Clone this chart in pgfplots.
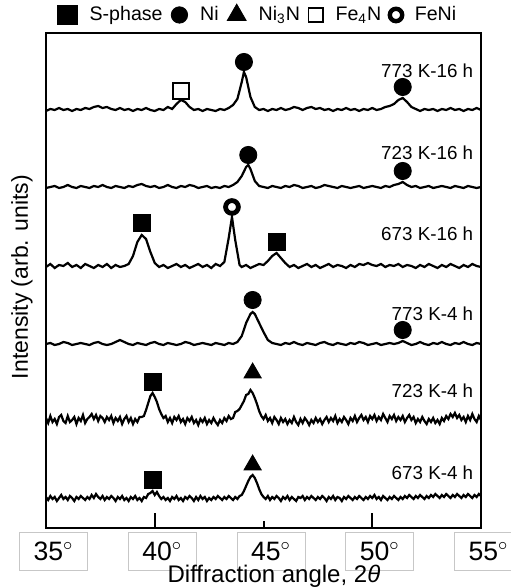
\documentclass[border=0pt]{standalone}
\usepackage{fontspec}
\setmainfont{Liberation Sans}
\usepackage{pgfplots}
\pgfplotsset{compat=1.18}
\newcommand{\dg}{$^{\circ}$}
\begin{document}
\begin{tikzpicture}
\begin{axis}[
  scale only axis, width=217.5pt, height=247.5pt,
  xmin=35, xmax=55, ymin=0, ymax=495,
  axis line style={line width=1pt},
  ytick=\empty,
  xtick={35,40,50,55},
  xticklabels={35\dg\hspace{6pt},40\dg\hspace{6pt},50\dg\hspace{6pt},55\dg\hspace{6pt}},
  extra x ticks={45},
  extra x tick labels={45\dg\hspace{6pt}},
  extra x tick style={major tick length=3.5pt},
  major tick length=7.5pt,
  xtick pos=bottom, tick align=inside,
  every tick/.style={black, line width=1pt},
  xticklabel style={draw=black!22, line width=0.5pt, minimum width=34pt, minimum height=19pt, inner sep=0pt, anchor=north, xshift=3.75pt, yshift=-2pt, font=\fontsize{13.3}{15}\selectfont},
  xlabel={Diffraction angle, 2\textit{θ}},
  ylabel={Intensity (arb. units)},
  every axis x label/.style={at={(axis description cs:0.524,-0.1091)}, anchor=base, font=\fontsize{12}{14}\selectfont},
  every axis y label/.style={at={(axis description cs:-0.0414,0.507)}, rotate=90, anchor=base, font=\fontsize{11.5}{13}\selectfont},
  legend columns=5,
  legend style={draw=none, fill=none, at={(axis description cs:0.4897,1.0364)}, anchor=center, font=\fontsize{9.8}{11}\selectfont,
    /tikz/every even column/.append style={column sep=2.3pt},
    /tikz/every odd column/.append style={column sep=4.3pt}},
  legend image code/.code={\draw[#1] plot coordinates {(0pt,0pt)};},
]
\addlegendimage{/tikz/only marks, black, mark=square*, mark size=4.8pt}
\addlegendentry{S-phase}
\addlegendimage{/tikz/only marks, black, mark=*, mark size=4.1pt}
\addlegendentry{Ni}
\addlegendimage{/tikz/only marks, black, mark=triangle*, mark size=5.4pt}
\addlegendentry{Ni\textsubscript{3}N}
\addlegendimage{/tikz/only marks, black, mark=square, mark size=3.6pt, line width=0.9pt}
\addlegendentry{Fe\textsubscript{4}N}
\addlegendimage{/tikz/only marks, black, mark=o, mark size=3.1pt, line width=2.2pt}
\addlegendentry{FeNi}

% 773 K-16 h
\addplot[black, line width=1.1pt, forget plot] coordinates {(35.0,417)(35.2,419)(35.4,418)(35.6,420)(35.8,418)(36.0,419)(36.2,417)(36.4,419)(36.6,418)(36.8,420)(37.0,419)(37.2,421)(37.4,422)(37.6,420)(37.8,421)(38.0,419)(38.2,418)(38.4,420)(38.6,418)(38.8,419)(39.0,417)(39.2,419)(39.4,418)(39.6,420)(39.8,418)(40.0,417)(40.2,419)(40.4,418)(40.6,421)(40.8,419)(41.0,424)(41.2,428)(41.4,426)(41.6,421)(41.8,418)(42.0,419)(42.2,417)(42.4,419)(42.6,418)(42.8,417)(43.0,419)(43.2,418)(43.4,420)(43.6,423)(43.8,429)(44.0,446)(44.1,456)(44.2,451)(44.4,431)(44.6,421)(44.8,418)(45.0,419)(45.2,417)(45.4,419)(45.6,418)(45.8,420)(46.0,418)(46.2,419)(46.4,421)(46.6,420)(46.8,418)(47.0,420)(47.2,421)(47.4,419)(47.6,420)(47.8,418)(48.0,419)(48.2,417)(48.4,419)(48.6,418)(48.8,420)(49.0,418)(49.2,419)(49.4,417)(49.6,419)(49.8,418)(50.0,420)(50.2,418)(50.4,419)(50.6,421)(50.8,422)(51.0,424)(51.2,428)(51.4,430)(51.6,426)(51.8,421)(52.0,419)(52.2,417)(52.4,419)(52.6,418)(52.8,419)(53.0,417)(53.2,419)(53.4,418)(53.6,420)(53.8,418)(54.0,419)(54.2,417)(54.4,419)(54.6,418)(54.8,420)(55.0,418)};
% 723 K-16 h
\addplot[black, line width=1.1pt, forget plot] coordinates {(35.0,340)(35.2,341)(35.4,342)(35.6,340)(35.8,341)(36.0,343)(36.2,341)(36.4,340)(36.6,342)(36.8,341)(37.0,340)(37.2,342)(37.4,341)(37.6,343)(37.8,341)(38.0,340)(38.2,342)(38.4,341)(38.6,340)(38.8,342)(39.0,341)(39.2,343)(39.4,344)(39.6,342)(39.8,341)(40.0,342)(40.2,340)(40.4,341)(40.6,343)(40.8,341)(41.0,340)(41.2,342)(41.4,341)(41.6,343)(41.8,342)(42.0,340)(42.2,341)(42.4,342)(42.6,340)(42.8,341)(43.0,340)(43.2,342)(43.4,341)(43.6,343)(43.8,346)(44.0,352)(44.2,361)(44.3,363)(44.4,359)(44.6,347)(44.8,342)(45.0,341)(45.2,340)(45.4,342)(45.6,341)(45.8,340)(46.0,342)(46.2,341)(46.4,343)(46.6,342)(46.8,340)(47.0,341)(47.2,342)(47.4,340)(47.6,341)(47.8,343)(48.0,342)(48.2,341)(48.4,340)(48.6,342)(48.8,341)(49.0,340)(49.2,341)(49.4,342)(49.6,340)(49.8,341)(50.0,342)(50.2,341)(50.4,340)(50.6,342)(50.8,341)(51.0,343)(51.2,344)(51.4,346)(51.6,343)(51.8,341)(52.0,342)(52.2,340)(52.4,341)(52.6,342)(52.8,340)(53.0,341)(53.2,342)(53.4,341)(53.6,340)(53.8,342)(54.0,341)(54.2,340)(54.4,342)(54.6,341)(54.8,340)(55.0,341)};
% 673 K-16 h
\addplot[black, line width=1.1pt, forget plot] coordinates {(35.0,261)(35.2,264)(35.4,260)(35.6,263)(35.8,262)(36.0,265)(36.2,261)(36.4,263)(36.6,260)(36.8,264)(37.0,262)(37.2,260)(37.4,263)(37.6,261)(37.8,264)(38.0,260)(38.2,263)(38.4,261)(38.6,262)(38.8,264)(39.0,272)(39.2,286)(39.4,293)(39.6,289)(39.8,276)(40.0,265)(40.2,261)(40.4,263)(40.6,260)(40.8,262)(41.0,264)(41.2,261)(41.4,263)(41.6,260)(41.8,262)(42.0,264)(42.2,261)(42.4,263)(42.6,260)(42.8,264)(43.0,262)(43.2,266)(43.4,290)(43.55,311)(43.7,288)(43.9,263)(44.0,261)(44.2,263)(44.4,260)(44.6,262)(44.8,264)(45.0,263)(45.2,267)(45.4,272)(45.6,275)(45.8,270)(46.0,265)(46.2,261)(46.4,263)(46.6,260)(46.8,262)(47.0,264)(47.2,261)(47.4,263)(47.6,260)(47.8,262)(48.0,264)(48.2,261)(48.4,263)(48.6,262)(48.8,260)(49.0,263)(49.2,261)(49.4,264)(49.6,263)(49.8,265)(50.0,263)(50.2,262)(50.4,264)(50.6,261)(50.8,263)(51.0,262)(51.2,264)(51.4,261)(51.6,263)(51.8,262)(52.0,260)(52.2,263)(52.4,261)(52.6,264)(52.8,262)(53.0,260)(53.2,263)(53.4,261)(53.6,264)(53.8,262)(54.0,260)(54.2,263)(54.4,261)(54.6,264)(54.8,262)(55.0,261)};
% 773 K-4 h
\addplot[black, line width=1.1pt, forget plot] coordinates {(35.0,184)(35.2,185)(35.4,183)(35.6,184)(35.8,186)(36.0,185)(36.2,183)(36.4,184)(36.6,185)(36.8,184)(37.0,183)(37.2,185)(37.4,186)(37.6,184)(37.8,183)(38.0,184)(38.2,186)(38.4,188)(38.6,186)(38.8,184)(39.0,183)(39.2,185)(39.4,184)(39.6,183)(39.8,185)(40.0,186)(40.2,184)(40.4,183)(40.6,185)(40.8,184)(41.0,183)(41.2,184)(41.4,186)(41.6,185)(41.8,183)(42.0,184)(42.2,185)(42.4,184)(42.6,183)(42.8,185)(43.0,184)(43.2,183)(43.4,185)(43.6,184)(43.8,186)(44.0,192)(44.2,205)(44.4,214)(44.5,216)(44.6,214)(44.8,205)(45.0,196)(45.2,188)(45.4,185)(45.6,184)(45.8,183)(46.0,185)(46.2,184)(46.4,186)(46.6,184)(46.8,183)(47.0,185)(47.2,184)(47.4,183)(47.6,185)(47.8,186)(48.0,184)(48.2,183)(48.4,185)(48.6,184)(48.8,183)(49.0,185)(49.2,184)(49.4,186)(49.6,185)(49.8,183)(50.0,184)(50.2,185)(50.4,183)(50.6,184)(50.8,185)(51.0,184)(51.2,185)(51.4,187)(51.6,185)(51.8,183)(52.0,184)(52.2,186)(52.4,184)(52.6,183)(52.8,185)(53.0,184)(53.2,186)(53.4,184)(53.6,183)(53.8,185)(54.0,184)(54.2,186)(54.4,184)(54.6,183)(54.8,185)(55.0,184)};
% 723 K-4 h
\addplot[black, line width=1.1pt, forget plot] coordinates {(35.0,110)(35.1,105)(35.2,112)(35.3,106)(35.4,109)(35.5,104)(35.6,111)(35.7,113)(35.8,107)(35.9,105)(36.0,112)(36.1,106)(36.2,108)(36.3,111)(36.4,104)(36.5,110)(36.6,107)(36.7,113)(36.8,105)(36.9,109)(37.0,111)(37.1,114)(37.2,109)(37.3,113)(37.4,107)(37.5,112)(37.6,110)(37.7,106)(37.8,111)(37.9,108)(38.0,112)(38.1,105)(38.2,110)(38.3,107)(38.4,111)(38.5,104)(38.6,109)(38.7,112)(38.8,106)(38.9,110)(39.0,104)(39.1,109)(39.2,106)(39.3,111)(39.4,111)(39.5,112)(39.6,118)(39.7,125)(39.8,132)(39.9,135)(40.0,131)(40.1,126)(40.2,119)(40.3,114)(40.4,110)(40.5,112)(40.6,106)(40.7,110)(40.8,105)(40.9,111)(41.0,108)(41.1,112)(41.2,106)(41.3,109)(41.4,104)(41.5,110)(41.6,107)(41.7,111)(41.8,105)(41.9,108)(42.0,103)(42.1,109)(42.2,106)(42.3,110)(42.4,104)(42.5,108)(42.6,105)(42.7,110)(42.8,106)(42.9,103)(43.0,108)(43.1,105)(43.2,110)(43.3,107)(43.4,112)(43.5,109)(43.6,110)(43.7,116)(43.8,117)(43.9,119)(44.0,123)(44.1,127)(44.2,133)(44.3,134)(44.4,138)(44.5,135)(44.6,130)(44.7,124)(44.8,117)(44.9,112)(45.0,109)(45.1,113)(45.2,107)(45.3,110)(45.4,105)(45.5,111)(45.6,108)(45.7,104)(45.8,110)(45.9,106)(46.0,109)(46.1,104)(46.2,108)(46.3,105)(46.4,111)(46.5,106)(46.6,103)(46.7,109)(46.8,105)(46.9,110)(47.0,107)(47.1,103)(47.2,108)(47.3,105)(47.4,110)(47.5,106)(47.6,109)(47.7,104)(47.8,108)(47.9,111)(48.0,106)(48.1,110)(48.2,107)(48.3,112)(48.4,105)(48.5,109)(48.6,106)(48.7,111)(48.8,108)(48.9,104)(49.0,110)(49.1,107)(49.2,112)(49.3,106)(49.4,110)(49.5,113)(49.6,108)(49.7,111)(49.8,106)(49.9,112)(50.0,109)(50.1,113)(50.2,107)(50.3,111)(50.4,108)(50.5,114)(50.6,110)(50.7,106)(50.8,112)(50.9,109)(51.0,113)(51.1,107)(51.2,111)(51.3,108)(51.4,112)(51.5,106)(51.6,110)(51.7,113)(51.8,108)(51.9,111)(52.0,105)(52.1,109)(52.2,106)(52.3,111)(52.4,107)(52.5,104)(52.6,109)(52.7,106)(52.8,110)(52.9,105)(53.0,108)(53.1,104)(53.2,110)(53.3,107)(53.4,112)(53.5,109)(53.6,114)(53.7,111)(53.8,115)(53.9,110)(54.0,113)(54.1,108)(54.2,111)(54.3,106)(54.4,112)(54.5,108)(54.6,114)(54.7,109)(54.8,106)(54.9,112)(55.0,108)};
% 673 K-4 h
\addplot[black, line width=1.1pt, forget plot] coordinates {(35.0,31)(35.1,28)(35.2,32)(35.3,29)(35.4,31)(35.5,27)(35.6,30)(35.7,33)(35.8,29)(35.9,31)(36.0,28)(36.1,32)(36.2,30)(36.3,27)(36.4,31)(36.5,29)(36.6,32)(36.7,30)(36.8,28)(36.9,31)(37.0,29)(37.1,33)(37.2,30)(37.3,34)(37.4,31)(37.5,29)(37.6,32)(37.7,28)(37.8,31)(37.9,29)(38.0,32)(38.1,30)(38.2,27)(38.3,31)(38.4,29)(38.5,32)(38.6,28)(38.7,30)(38.8,27)(38.9,31)(39.0,29)(39.1,32)(39.2,28)(39.3,30)(39.4,27)(39.5,31)(39.6,30)(39.7,34)(39.8,35)(39.9,37)(40.0,33)(40.1,36)(40.2,32)(40.3,29)(40.4,31)(40.5,28)(40.6,30)(40.7,27)(40.8,31)(40.9,29)(41.0,32)(41.1,28)(41.2,30)(41.3,27)(41.4,31)(41.5,29)(41.6,32)(41.7,30)(41.8,27)(41.9,31)(42.0,28)(42.1,32)(42.2,29)(42.3,31)(42.4,27)(42.5,30)(42.6,28)(42.7,31)(42.8,29)(42.9,32)(43.0,30)(43.1,28)(43.2,31)(43.3,29)(43.4,32)(43.5,30)(43.6,28)(43.7,31)(43.8,29)(43.9,32)(44.0,33)(44.1,37)(44.2,42)(44.3,47)(44.4,51)(44.5,53)(44.6,50)(44.7,45)(44.8,39)(44.9,34)(45.0,31)(45.1,29)(45.2,32)(45.3,28)(45.4,31)(45.5,29)(45.6,32)(45.7,30)(45.8,27)(45.9,31)(46.0,29)(46.1,32)(46.2,28)(46.3,31)(46.4,29)(46.5,27)(46.6,31)(46.7,30)(46.8,32)(46.9,28)(47.0,31)(47.1,29)(47.2,32)(47.3,30)(47.4,28)(47.5,31)(47.6,29)(47.7,32)(47.8,30)(47.9,27)(48.0,31)(48.1,29)(48.2,32)(48.3,28)(48.4,31)(48.5,30)(48.6,27)(48.7,31)(48.8,29)(48.9,32)(49.0,30)(49.1,28)(49.2,31)(49.3,29)(49.4,32)(49.5,30)(49.6,28)(49.7,31)(49.8,29)(49.9,32)(50.0,30)(50.1,33)(50.2,29)(50.3,31)(50.4,28)(50.5,32)(50.6,30)(50.7,28)(50.8,31)(50.9,29)(51.0,32)(51.1,30)(51.2,28)(51.3,31)(51.4,29)(51.5,32)(51.6,30)(51.7,33)(51.8,31)(51.9,29)(52.0,32)(52.1,30)(52.2,33)(52.3,31)(52.4,29)(52.5,32)(52.6,30)(52.7,33)(52.8,31)(52.9,34)(53.0,32)(53.1,30)(53.2,33)(53.3,31)(53.4,34)(53.5,32)(53.6,30)(53.7,33)(53.8,31)(53.9,34)(54.0,32)(54.1,30)(54.2,33)(54.3,31)(54.4,34)(54.5,32)(54.6,30)(54.7,33)(54.8,31)(54.9,34)(55.0,32)};

% phase markers
\addplot[only marks, forget plot, black, mark=*, mark size=4.3pt, line width=0.4pt] coordinates {(44.1,466)(51.4,441)(44.3,373)(51.4,357)(44.5,228)(51.4,198)};
\addplot[only marks, forget plot, black, mark=square*, mark size=4.3pt, line width=0.4pt] coordinates {(39.4,305)(45.6,286)(39.9,146)(39.9,48)};
\addplot[only marks, forget plot, black, mark=triangle*, mark size=5pt, line width=0.4pt] coordinates {(44.5,155)(44.5,63)};
\addplot[only marks, forget plot, black, mark=square, mark size=4pt, line width=1pt] coordinates {(41.2,437)};
\addplot[only marks, forget plot, black, mark=o, mark size=3.2pt, line width=2.4pt] coordinates {(43.55,321)};

\begin{scope}[every node/.style={anchor=east, inner sep=0pt, font=\fontsize{9.4}{11}\selectfont}]
\node at (axis cs:54.66,457) {773 K-16 h};
\node at (axis cs:54.66,375) {723 K-16 h};
\node at (axis cs:54.66,294) {673 K-16 h};
\node at (axis cs:54.66,214) {773 K-4 h};
\node at (axis cs:54.66,137) {723 K-4 h};
\node at (axis cs:54.66,55.5) {673 K-4 h};
\end{scope}
\coordinate (O) at (rel axis cs:0,0);
\end{axis}
\pgfresetboundingbox
\path (O) ++(-23pt,-29.5pt) rectangle ++(255pt,293.5pt);
\end{tikzpicture}
\end{document}
